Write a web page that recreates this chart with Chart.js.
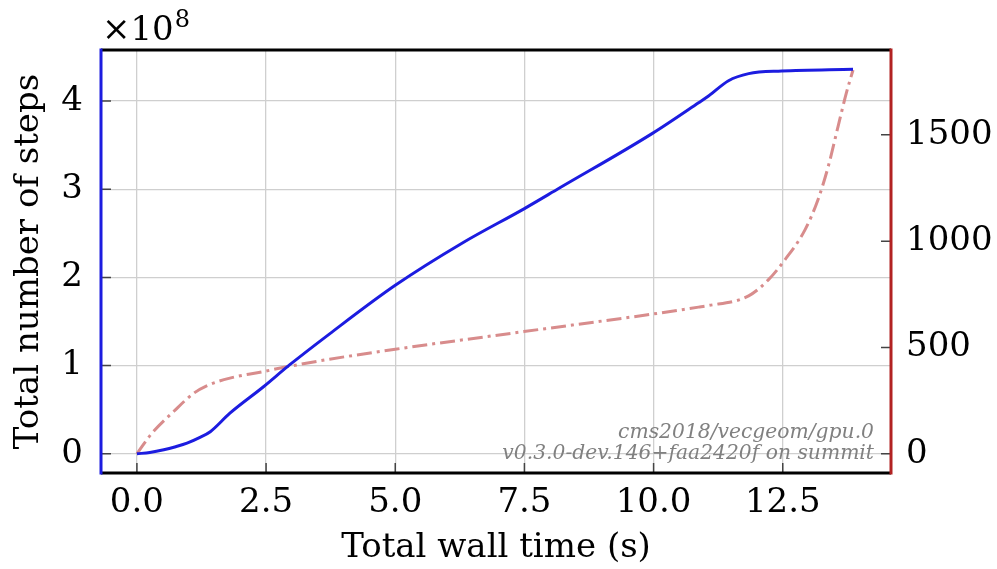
<!DOCTYPE html>
<html>
<head>
<meta charset="utf-8">
<script src="https://cdn.jsdelivr.net/npm/chart.js@4/dist/chart.umd.min.js"></script>
<style>
  html, body { margin: 0; padding: 0; background: #fff; }
  #wrap { width: 997px; height: 569px; }
</style>
</head>
<body>
<div id="wrap"><canvas id="chart"></canvas></div>
<script>
// blue series: total number of steps vs wall time
const stepTimes = [0, 0.25, 0.52, 0.75, 0.97, 1.2, 1.42, 1.8, 2.45, 2.96, 3.73, 5.0, 6.3, 7.5, 8.17, 9.97, 10.87, 11.07, 11.45, 11.84, 12.48, 13.86];
const stepTotals = [0, 0.015e8, 0.045e8, 0.08e8, 0.12e8, 0.18e8, 0.25e8, 0.46e8, 0.76e8, 1.01e8, 1.36e8, 1.91e8, 2.39e8, 2.78e8, 3.01e8, 3.63e8, 3.98e8, 4.06e8, 4.23e8, 4.31e8, 4.34e8, 4.36e8];

// red series (right axis)
const rightTimes = [0, 0.1, 0.29, 0.71, 1.1, 1.35, 1.8, 2.45, 2.87, 3.73, 5.0, 7.49, 9.97, 10.87, 11.03, 11.84, 12.22, 12.54, 12.93, 13.18, 13.38, 13.57, 13.73, 13.86];
const rightValues = [0, 35, 97, 199, 285, 320, 356, 387, 408, 445, 492, 575, 657, 690, 696, 743, 818, 912, 1053, 1194, 1351, 1539, 1696, 1805];

const xTicks = [0, 2.5, 5, 7.5, 10, 12.5];
const leftTicks = [0, 1e8, 2e8, 3e8, 4e8];
const rightTicks = [0, 500, 1000, 1500];

const annotation = ['cms2018/vecgeom/gpu.0', 'v0.3.0-dev.146+faa2420f on summit'];

const SERIF = '"DejaVu Serif", serif';
const FS = 34;
const BLUE = '#1c1ce0';
const RED = '#b22222';

let fixTicks = function(list) {
  return function(scale) {
    scale.ticks = list.map((v) => ({value: v}));
  };
};

const framePlugin = {
  id: 'frame',
  afterDatasetsDraw(chart) {
    const ctx = chart.ctx;
    const a = chart.chartArea;
    const x = chart.scales.x, y = chart.scales.y, y2 = chart.scales.y2;
    ctx.save();
    // inward tick marks
    ctx.strokeStyle = '#444';
    ctx.lineWidth = 1.5;
    ctx.beginPath();
    xTicks.forEach((v) => {
      const px = x.getPixelForValue(v);
      ctx.moveTo(px, a.bottom);
      ctx.lineTo(px, a.bottom - 10);
    });
    leftTicks.forEach((v) => {
      const py = y.getPixelForValue(v);
      ctx.moveTo(a.left, py);
      ctx.lineTo(a.left + 10, py);
    });
    rightTicks.forEach((v) => {
      const py = y2.getPixelForValue(v);
      ctx.moveTo(a.right, py);
      ctx.lineTo(a.right - 10, py);
    });
    ctx.stroke();

    // spines
    ctx.lineWidth = 3;
    ctx.strokeStyle = '#000';
    ctx.beginPath();
    ctx.moveTo(a.left, a.top); ctx.lineTo(a.right, a.top);
    ctx.moveTo(a.left, a.bottom); ctx.lineTo(a.right, a.bottom);
    ctx.stroke();
    ctx.strokeStyle = BLUE;
    ctx.beginPath();
    ctx.moveTo(a.left, a.top - 1.5); ctx.lineTo(a.left, a.bottom + 1.5);
    ctx.stroke();
    ctx.strokeStyle = RED;
    ctx.beginPath();
    ctx.moveTo(a.right, a.top - 1.5); ctx.lineTo(a.right, a.bottom + 1.5);
    ctx.stroke();

    // offset label
    ctx.fillStyle = '#000';
    ctx.textBaseline = 'alphabetic';
    ctx.textAlign = 'left';
    ctx.font = FS + 'px ' + SERIF;
    ctx.fillText('\u00d710', a.left + 1, 40);
    const w = ctx.measureText('\u00d710').width;
    ctx.font = '24px ' + SERIF;
    ctx.fillText('8', a.left + 2 + w, 27);

    // annotation
    ctx.fillStyle = '#808080';
    ctx.textAlign = 'right';
    ctx.font = 'italic 20.3px ' + SERIF;
    ctx.fillText(annotation[0], a.right - 17, 438);
    ctx.fillText(annotation[1], a.right - 17, 459);
    ctx.restore();
  }
};

const config = {
  type: 'line',
  data: {
    datasets: [{
      label: 'steps',
      data: stepTimes.map((t, i) => ({x: t, y: stepTotals[i]})),
      borderColor: BLUE,
      borderWidth: 3,
      pointRadius: 0,
      fill: false,
      cubicInterpolationMode: 'monotone',
      yAxisID: 'y'
    }, {
      label: 'right',
      data: rightTimes.map((t, i) => ({x: t, y: rightValues[i]})),
      borderColor: '#d88c8c',
      borderWidth: 3,
      borderDash: [15, 5, 3, 5],
      pointRadius: 0,
      fill: false,
      cubicInterpolationMode: 'monotone',
      yAxisID: 'y2'
    }]
  },
  options: {
    responsive: true,
    maintainAspectRatio: false,
    animation: false,
    layout: { padding: { top: 50, left: 0, right: 0, bottom: 0 } },
    plugins: { legend: { display: false }, tooltip: { enabled: false } },
    scales: {
      x: {
        type: 'linear',
        min: -0.695,
        max: 14.595,
        afterBuildTicks: fixTicks(xTicks),
        afterFit: (s) => { s.height = 96; },
        grid: { color: '#cfcfcf', lineWidth: 1.3, drawTicks: false },
        border: { display: false },
        ticks: {
          color: '#000',
          padding: 10,
          maxRotation: 0,
          font: { family: SERIF, size: FS },
          callback: (v) => v.toFixed(1)
        },
        title: {
          display: true,
          text: 'Total wall time (s)',
          color: '#000',
          padding: { top: 0, bottom: 0 },
          font: { family: SERIF, size: FS }
        }
      },
      y: {
        position: 'left',
        min: -0.218e8,
        max: 4.578e8,
        afterBuildTicks: fixTicks(leftTicks),
        afterFit: (s) => { s.width = 101; },
        grid: { color: '#cfcfcf', lineWidth: 1.3, drawTicks: false },
        border: { display: false },
        ticks: {
          color: '#000',
          padding: 18,
          font: { family: SERIF, size: FS },
          callback: (v) => (v / 1e8).toFixed(0)
        },
        title: {
          display: true,
          text: 'Total number of steps',
          color: '#000',
          padding: { top: 9, bottom: 9 },
          font: { family: SERIF, size: FS }
        }
      },
      y2: {
        position: 'right',
        min: -90,
        max: 1899,
        afterBuildTicks: fixTicks(rightTicks),
        afterFit: (s) => { s.width = 106; },
        grid: { display: false, drawTicks: false },
        border: { display: false },
        ticks: {
          color: '#000',
          padding: 15,
          font: { family: SERIF, size: FS },
          callback: (v) => v.toString()
        }
      }
    }
  },
  plugins: [framePlugin]
};

const myChart = new Chart(document.getElementById('chart'), config);
</script>
</body>
</html>
